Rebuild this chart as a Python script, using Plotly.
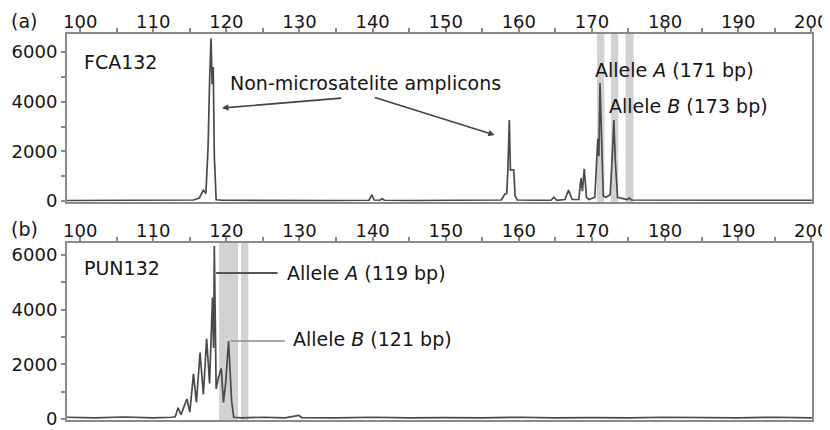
import plotly.graph_objects as go
from plotly.subplots import make_subplots

# ---- data ----
fca_bp = [98.2, 105, 110, 113, 115.5, 116.3, 116.85, 117.2, 117.5, 117.7, 117.9, 118.05, 118.2, 118.35, 118.6,
          119.5, 125, 130, 135, 139.5, 139.9, 140.2, 141.0, 141.3, 141.6, 145, 150, 155, 157.6, 158.1, 158.35,
          158.5, 158.7, 158.85, 159.3, 159.5, 159.8, 162, 164.4, 164.8, 165.2, 166.3, 166.8, 167.3, 168.2, 168.5,
          168.7, 168.95, 169.25, 169.6, 170.4, 170.8, 170.95, 171.1, 171.3, 171.55, 171.9, 172.5, 172.8, 173.0,
          173.2, 173.5, 174.8, 175.1, 175.4, 180, 190, 200.1]
fca_rfu = [20, 30, 20, 40, 40, 120, 440, 300, 2200, 4800, 6550, 4700, 5400, 1800, 50,
           30, 20, 30, 20, 30, 250, 40, 30, 100, 30, 20, 30, 20, 40, 280, 300,
           1250, 3260, 1250, 1250, 200, 40, 30, 30, 150, 30, 60, 440, 60, 60, 920,
           400, 1300, 150, 60, 150, 2500, 1800, 4750, 2500, 200, 150, 250, 1930, 3260,
           1600, 150, 60, 120, 40, 30, 30, 30]

pun_bp = [98.2, 102, 106, 110, 112.5, 113.0, 113.4, 113.8, 114.2, 114.6, 115.0, 115.5, 115.9, 116.4, 116.85,
          117.3, 117.7, 118.1, 118.25, 118.35, 118.6, 118.9, 119.3, 119.6, 119.9, 120.3, 120.7,
          121.0, 122, 125, 128, 129.9, 130.3, 135, 140, 145, 150, 155, 160, 165, 170, 175, 180, 185,
          190, 195, 200.1]
pun_rfu = [60, 40, 70, 40, 60, 80, 410, 150, 450, 730, 250, 1650, 600, 2430, 900,
           2930, 1300, 4440, 2600, 6330, 1100, 1500, 1850, 600, 1300, 2850, 700,
           60, 40, 60, 40, 130, 50, 40, 60, 40, 50, 40, 60, 40, 50, 40, 60, 50,
           40, 60, 40]

fca_bins = [(170.7, 171.7), (172.6, 173.6), (174.6, 175.7)]
pun_bins = [(119.0, 121.6), (122.0, 123.0)]

x_ticks = [100, 110, 120, 130, 140, 150, 160, 170, 180, 190, 200]
x_minor = [105, 115, 125, 135, 145, 155, 165, 175, 185, 195]
y_ticks = [0, 2000, 4000, 6000]
y_minor = [1000, 3000, 5000]

FONT = "DejaVu Sans"
AX = "#8a8a8a"
TRACE = "#4a4a4a"
BAND = "#d2d2d2"
TXT = "#151515"

fig = make_subplots(rows=2, cols=1, shared_xaxes=False, vertical_spacing=0.106)
fig.add_trace(go.Scatter(x=fca_bp, y=fca_rfu, mode="lines",
                         line=dict(color=TRACE, width=1.7), hoverinfo="skip"), row=1, col=1)
fig.add_trace(go.Scatter(x=pun_bp, y=pun_rfu, mode="lines",
                         line=dict(color=TRACE, width=1.7), hoverinfo="skip"), row=2, col=1)

for (a, b) in fca_bins:
    fig.add_shape(type="rect", xref="x", yref="y domain", x0=a, x1=b, y0=0, y1=1,
                  fillcolor=BAND, line=dict(width=0), layer="below")
for (a, b) in pun_bins:
    fig.add_shape(type="rect", xref="x2", yref="y2 domain", x0=a, x1=b, y0=0, y1=1,
                  fillcolor=BAND, line=dict(width=0), layer="below")

xcommon = dict(range=[98.2, 200.1], side="top", tickvals=x_ticks, ticks="outside", ticklen=4,
               tickcolor=AX, tickwidth=2, showline=True, linecolor=AX, linewidth=2, mirror=True,
               showgrid=False, zeroline=False, automargin=False, ticklabelstandoff=-7,
               tickfont=dict(family=FONT, size=18, color=TXT),
               minor=dict(tickvals=x_minor, ticks="outside", ticklen=4, tickcolor=AX, tickwidth=2))
ycommon = dict(tickvals=y_ticks, ticks="outside", ticklen=4, tickcolor=AX, tickwidth=2,
               showline=True, linecolor=AX, linewidth=2, mirror=True, showgrid=False, zeroline=False,
               automargin=False, tickfont=dict(family=FONT, size=18, color=TXT),
               minor=dict(tickvals=y_minor, ticks="outside", ticklen=4, tickcolor=AX, tickwidth=2))
fig.update_xaxes(**xcommon)
fig.update_yaxes(**ycommon)
fig.update_yaxes(range=[-40, 6725], row=1, col=1)
fig.update_yaxes(range=[-40, 6440], row=2, col=1)
fig.update_layout(yaxis=dict(domain=[0.5648, 1.0]), yaxis2=dict(domain=[0.0, 0.4585]))

tf = dict(family=FONT, size=19, color=TXT)
ann = [
    dict(text="(a)", xref="paper", yref="paper", x=-0.078, y=1.034, xanchor="left", yanchor="middle",
         showarrow=False),
    dict(text="(b)", xref="paper", yref="paper", x=-0.078, y=0.494, xanchor="left", yanchor="middle",
         showarrow=False),
    dict(text="FCA132", xref="x", yref="y", x=100.2, y=5600, xanchor="left", yanchor="middle",
         showarrow=False),
    dict(text="Non-microsatelite amplicons", xref="x", yref="y", x=120.2, y=4752, xanchor="left",
         yanchor="middle", showarrow=False),
    dict(text="Allele <i>A</i> (171 bp)", xref="x", yref="y", x=170.1, y=5276, xanchor="left",
         yanchor="middle", showarrow=False),
    dict(text="Allele <i>B</i> (173 bp)", xref="x", yref="y", x=172.0, y=3826, xanchor="left",
         yanchor="middle", showarrow=False),
    dict(text="PUN132", xref="x2", yref="y2", x=100.2, y=5525, xanchor="left", yanchor="middle",
         showarrow=False),
    dict(text="Allele <i>A</i> (119 bp)", xref="x2", yref="y2", x=128.0, y=5342, xanchor="left",
         yanchor="middle", showarrow=False),
    dict(text="Allele <i>B</i> (121 bp)", xref="x2", yref="y2", x=128.8, y=2927, xanchor="left",
         yanchor="middle", showarrow=False),
    # arrows
    dict(text="", xref="x", yref="y", axref="x", ayref="y", x=119.4, y=3745, ax=135.9, ay=4148,
         showarrow=True, arrowhead=2, arrowsize=0.8, arrowwidth=1.6, arrowcolor="#444"),
    dict(text="", xref="x", yref="y", axref="x", ayref="y", x=156.7, y=2658, ax=140.1, ay=4188,
         showarrow=True, arrowhead=2, arrowsize=0.8, arrowwidth=1.6, arrowcolor="#444"),
]
for a in ann:
    a["font"] = tf
fig.update_layout(annotations=ann)

fig.add_shape(type="line", xref="x2", yref="y2", x0=118.6, x1=127.0, y0=5342, y1=5342,
              line=dict(color="#555", width=2))
fig.add_shape(type="line", xref="x2", yref="y2", x0=120.6, x1=128.0, y0=2854, y1=2854,
              line=dict(color="#8a8a8a", width=1.5))

# page body has an 8px margin: size the figure so it ends at the 830x430 window edge
fig.update_layout(width=822, height=422, margin=dict(l=59, r=18, t=26, b=10, autoexpand=False),
                  paper_bgcolor="white", plot_bgcolor="white", showlegend=False,
                  font=dict(family=FONT, size=18, color=TXT))
fig.write_html("out.html")
